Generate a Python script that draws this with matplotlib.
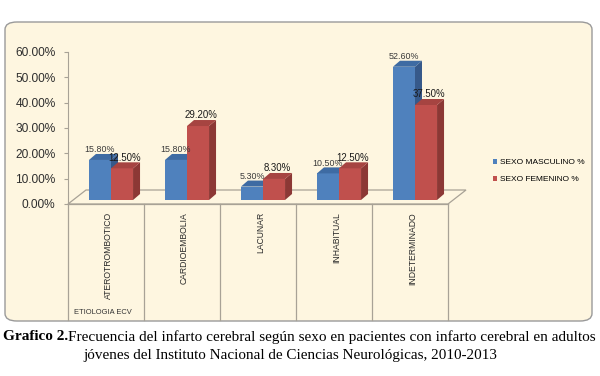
import matplotlib
matplotlib.use('Agg')
import matplotlib.pyplot as plt
import matplotlib.transforms as mtransforms
from matplotlib.patches import Polygon, FancyBboxPatch, Patch
from matplotlib.lines import Line2D

# Data
categories = ['ATEROTROMBOTICO', 'CARDIOEMBOLIA', 'LACUNAR', 'INHABITUAL', 'INDETERMINADO']
masculino = [15.8, 15.8, 5.3, 10.5, 52.6]
femenino = [12.5, 29.2, 8.3, 12.5, 37.5]
series_names = ['SEXO MASCULINO %', 'SEXO FEMENINO %']
yticks = [0, 10, 20, 30, 40, 50, 60]

# Colors (front, side, top)
blue = ('#4F81BD', '#36598A', '#3E6BA3')
red = ('#C0504D', '#8C3835', '#A64441')
cream = '#FEF6E0'
grid_gray = '#A8A296'

W, H = 600, 376
fig = plt.figure(figsize=(6, 3.76), dpi=100)
fig.patch.set_facecolor('white')

# Chart box
box = FancyBboxPatch((5 / W, 1 - 321 / H), 587 / W, 299 / H,
                     boxstyle='round,pad=0,rounding_size=0.02',
                     transform=fig.transFigure, fc=cream, ec='#9A9A9A', lw=1.0, zorder=-5)
fig.patches.append(box)

ax = fig.add_axes([68 / W, 1 - 204 / H, 380 / W, 152 / H])
ax.patch.set_alpha(0)
ax.set_xlim(-0.5, 4.5)
ax.set_ylim(0, 60)
for s in ['top', 'right', 'bottom']:
    ax.spines[s].set_visible(False)
ax.spines['left'].set_color(grid_gray)
ax.set_xticks([])
ax.set_yticks(yticks)
ax.set_yticklabels(['%.2f%%' % v for v in yticks], family='Liberation Sans',
                   fontsize=8.6, color='#2e2e2e')
ax.tick_params(axis='y', length=3, color=grid_gray, pad=6)

# pixel -> data units
xu = 5 / 380.0
yu = 60 / 152.0

# floor (3D depth)
fdx, fdy = 18 * xu, 14 * yu
floor = Polygon([(-0.5, 0), (4.5, 0), (4.5 + fdx, fdy), (-0.5 + fdx, fdy)],
                closed=True, fc='none', ec=grid_gray, lw=0.9, clip_on=False, zorder=1)
ax.add_patch(floor)

# bars shifted back into the floor
trans = ax.transData + mtransforms.ScaledTranslation(5 / 100, 4 / 100, fig.dpi_scale_trans)
bw = 0.29
bdx, bdy = 7 * xu, 6 * yu


def draw_bar(x, v, cols):
    xl, xr = x - bw / 2, x + bw / 2
    ax.add_patch(Polygon([(xl, 0), (xr, 0), (xr, v), (xl, v)], closed=True,
                         fc=cols[0], ec='none', transform=trans, clip_on=False, zorder=3))
    ax.add_patch(Polygon([(xr, 0), (xr + bdx, bdy), (xr + bdx, v + bdy), (xr, v)], closed=True,
                         fc=cols[1], ec='none', transform=trans, clip_on=False, zorder=3))
    ax.add_patch(Polygon([(xl, v), (xr, v), (xr + bdx, v + bdy), (xl + bdx, v + bdy)], closed=True,
                         fc=cols[2], ec='none', transform=trans, clip_on=False, zorder=3))


for i in range(len(categories)):
    draw_bar(i - bw / 2, masculino[i], blue)
    draw_bar(i + bw / 2, femenino[i], red)
for i in range(len(categories)):
    ax.annotate('%.2f%%' % masculino[i], (i - bw / 2, masculino[i]), xycoords=trans,
                xytext=(0, 4), textcoords='offset points', ha='center', va='bottom',
                fontsize=6.4, family='Liberation Sans', color='#3a3a3a', zorder=5)
    ax.annotate('%.2f%%' % femenino[i], (i + bw / 2, femenino[i]), xycoords=trans,
                xytext=(2, 4), textcoords='offset points', ha='center', va='bottom',
                fontsize=6.9, family='Liberation Sans', color='#1a1a1a', zorder=5)

# category table below axis
xt = ax.get_xaxis_transform()
low = -(320 - 204) / 152.0
for b in [-0.5, 0.5, 1.5, 2.5, 3.5, 4.5]:
    ax.add_line(Line2D([b, b], [0, low], transform=xt, color=grid_gray, lw=0.9, clip_on=False))
ax.add_line(Line2D([-0.5, 4.5], [0, 0], transform=xt, color=grid_gray, lw=0.9, clip_on=False))
for i, c in enumerate(categories):
    ax.text(i + 0.03, -8 / 152.0, c, transform=xt, rotation=90, ha='center', va='top',
            fontsize=6.2, family='Liberation Sans', color='#2a2a2a')
ax.text(-0.42, low + 4 / 152.0, 'ETIOLOGIA ECV', transform=xt, ha='left', va='bottom',
        fontsize=5.4, family='Liberation Sans', color='#333333')

# legend
handles = [Patch(fc=blue[0], ec='none'), Patch(fc=red[0], ec='none')]
fig.legend(handles, series_names, loc='center left', bbox_to_anchor=(485 / W, 1 - 171 / H),
           frameon=False, prop={'family': 'Liberation Sans', 'size': 6},
           handlelength=0.55, handleheight=0.55, handletextpad=0.3, labelspacing=1.2)

# caption
bold = fig.text(3 / W, 1 - 337 / H, 'Grafico 2.', family='Liberation Serif', fontweight='bold',
                fontsize=11, ha='left', va='center')
fig.text(290 / W, 1 - 355 / H, 'jóvenes del Instituto Nacional de Ciencias Neurológicas, 2010-2013',
         family='Liberation Serif', fontsize=10.9, ha='center', va='center')

fig.canvas.draw()
bb = bold.get_window_extent()
fig.text(bb.x1 / W, 1 - 337 / H,
         'Frecuencia del infarto cerebral según sexo en pacientes con infarto cerebral en adultos',
         family='Liberation Serif', fontsize=11, ha='left', va='center')

fig.savefig('out.png', dpi=100, facecolor='white')
